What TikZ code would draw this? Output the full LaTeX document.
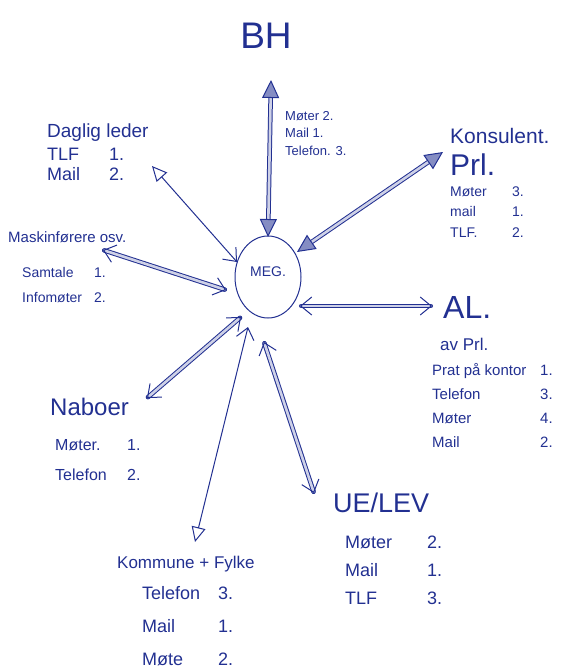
\documentclass[tikz,border=0pt]{standalone}
\usepackage{fontspec}
\setmainfont{Liberation Sans}
\usetikzlibrary{arrows.meta,shapes.geometric}
\definecolor{ink}{RGB}{34,48,145}
\tikzset{
  fullhead/.tip={Triangle[length=18pt, width=17pt, fill=ink!55, line width=1pt]},
  openhead/.tip={Triangle[open, length=15pt, width=14pt, line width=1pt]},
  barbhead/.tip={Straight Barb[length=11pt, width=18pt, line width=1pt]}
}
\begin{document}
\begin{tikzpicture}[x=1pt,y=-1pt,
  every node/.style={text=ink, inner sep=0pt},
  hand/.style 2 args={font=\fontsize{#1}{#2}\selectfont},
  txt/.style={anchor=base west},
  pen/.style={draw=ink, line width=1pt, line cap=round, line join=round},
  thinarrow/.style={pen},
  bandarrow/.style={pen, double=ink!22, double distance=2.6pt}
]
\useasboundingbox (0,0) rectangle (562,672);

% centre
\node[pen, ellipse, minimum width=66pt, minimum height=82pt] (meg) at (268,277) {};
\node[hand={14}{16}] (megtxt) at (268,272) {MEG.};

% BH
\node[hand={37}{40}] (bh) at (266,36) {BH};
\node[txt, hand={13}{17.5}] (bhlist) at (285,120)
  {\begin{tabular}[t]{@{}l@{}}Møter 2.\\Mail 1.\\Telefon. 3.\end{tabular}};

% Konsulent
\node[txt, hand={21}{24}] (kons) at (450,143) {Konsulent.};
\node[txt, hand={30}{32}] (prl) at (450,175) {Prl.};
\node[txt, hand={14}{20.5}] (konslist) at (450,196)
  {\begin{tabular}[t]{@{}p{62pt}@{}l@{}}Møter & 3.\\mail & 1.\\TLF. & 2.\end{tabular}};

% Daglig leder
\node[txt, hand={19}{21}] (dl) at (47,137) {Daglig leder};
\node[txt, hand={18}{20}] (dllist) at (47,160)
  {\begin{tabular}[t]{@{}p{62pt}@{}l@{}}TLF & 1.\\Mail & 2.\end{tabular}};

% Maskinførere
\node[txt, hand={15}{17}] (mf) at (8,242) {Maskinførere osv.};
\node[txt, hand={14}{25}] (mflist) at (22,277)
  {\begin{tabular}[t]{@{}p{72pt}@{}l@{}}Samtale & 1.\\Infomøter & 2.\end{tabular}};

% AL
\node[txt, hand={32}{34}] (al) at (443,318) {AL.};
\node[txt, hand={17}{18}] (avprl) at (440,350) {av Prl.};
\node[txt, hand={15}{24}] (allist) at (432,375)
  {\begin{tabular}[t]{@{}p{108pt}@{}l@{}}Prat på kontor & 1.\\Telefon & 3.\\Møter & 4.\\Mail & 2.\end{tabular}};

% Naboer
\node[txt, hand={24}{26}] (nab) at (50,415) {Naboer};
\node[txt, hand={16}{30}] (nablist) at (55,450)
  {\begin{tabular}[t]{@{}p{72pt}@{}l@{}}Møter. & 1.\\Telefon & 2.\end{tabular}};

% Kommune + Fylke
\node[txt, hand={17}{20}] (kom) at (117,568) {Kommune + Fylke};
\node[txt, hand={18}{33}] (komlist) at (142,599)
  {\begin{tabular}[t]{@{}p{76pt}@{}l@{}}Telefon & 3.\\Mail & 1.\\Møte & 2.\end{tabular}};

% UE/LEV
\node[txt, hand={27}{28}] (ue) at (333,512) {UE/LEV};
\node[txt, hand={18}{28}] (uelist) at (345,548)
  {\begin{tabular}[t]{@{}p{82pt}@{}l@{}}Møter & 2.\\Mail & 1.\\TLF & 3.\end{tabular}};

% arrow ends
\coordinate (bhFar) at (271,80);   \coordinate (bhNear) at (268,237);
\coordinate (kFar) at (443,152);   \coordinate (kNear) at (297,252);
\coordinate (dFar) at (152,166);   \coordinate (dNear) at (237,262);
\coordinate (mFar) at (103,250);   \coordinate (mNear) at (226,290);
\coordinate (aFar) at (432,306);   \coordinate (aNear) at (300,306);
\coordinate (nFar) at (147,398);   \coordinate (nNear) at (241,317);
\coordinate (koFar) at (195,542);  \coordinate (koNear) at (248,327);
\coordinate (uFar) at (314,493);   \coordinate (uNear) at (264,342);

% connectors
\draw[bandarrow, fullhead-fullhead] (bhFar) -- (bhNear);
\draw[bandarrow, fullhead-fullhead] (kFar) -- (kNear);
\draw[thinarrow, openhead-barbhead] (dFar) -- (dNear);
\draw[bandarrow, barbhead-barbhead] (mFar) -- (mNear);
\draw[bandarrow, barbhead-barbhead] (aFar) -- (aNear);
\draw[bandarrow, barbhead-barbhead] (nFar) -- (nNear);
\draw[thinarrow, openhead-barbhead] (koFar) -- (koNear);
\draw[bandarrow, barbhead-barbhead] (uFar) -- (uNear);
\end{tikzpicture}
\end{document}
